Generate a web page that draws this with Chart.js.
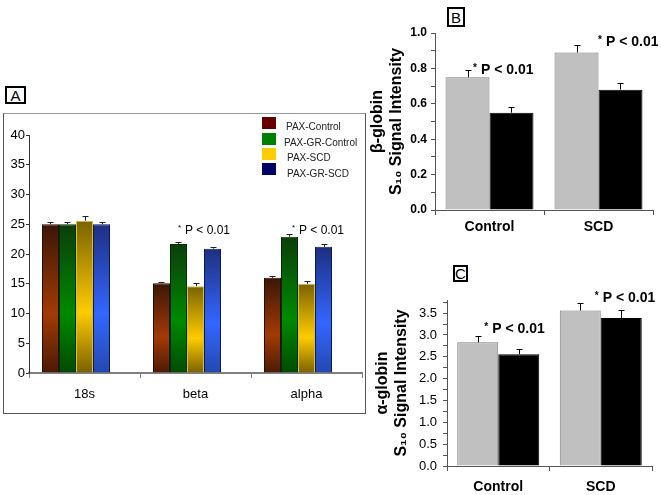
<!DOCTYPE html>
<html>
<head>
<meta charset="utf-8">
<script src="https://cdn.jsdelivr.net/npm/chart.js@4.4.1/dist/chart.umd.min.js"></script>
<style>
    body { margin: 0; background: #fff; font-family: "Liberation Sans", Arial, sans-serif; }
    #page { position: relative; width: 661px; height: 495px; overflow: hidden; }
    .abs { position: absolute; }
    .tag { position: absolute; box-sizing: border-box; border: 2px solid #000; font-size: 15px; line-height: 1; display: flex; align-items: center; justify-content: center; color: #000; }
    .key { position: absolute; width: 14px; height: 12px; }
    .keyText { position: absolute; font-size: 10px; color: #222; line-height: 12px; white-space: nowrap; }
</style>
</head>
<body>
<div id="page">
    <div class="abs" style="left:3px;top:113px;width:363px;height:301px;box-sizing:border-box;border:1px solid #555;border-top-color:#999;"></div>
    <div class="tag" style="left:5px;top:86px;width:21px;height:18px;">A</div>
    <div class="tag" style="left:447px;top:7px;width:18px;height:20px;">B</div>
    <div class="tag" style="left:453px;top:265px;width:15px;height:17px;">C</div>

    <canvas id="chartA" class="abs" style="left:4px;top:114px;" width="360" height="298"></canvas>
    <canvas id="chartB" class="abs" style="left:362px;top:20px;" width="299" height="225"></canvas>
    <canvas id="chartC" class="abs" style="left:362px;top:285px;" width="299" height="210"></canvas>
    <div id="legendA"></div>
</div>
<script>
// panel A: expression by probe
const categoriesA = ['18s', 'beta', 'alpha'];
const seriesNamesA = ['PAX-Control', 'PAX-GR-Control', 'PAX-SCD', 'PAX-GR-SCD'];
const paxControl = [25.0, 15.1, 16.0];
const paxGrControl = [25.0, 21.7, 22.9];
const paxScd = [25.6, 14.6, 15.0];
const paxGrScd = [25.0, 20.9, 21.2];
const errPaxControl = [0.35, 0.2, 0.35];
const errPaxGrControl = [0.3, 0.4, 0.4];
const errPaxScd = [0.75, 0.45, 0.45];
const errPaxGrScd = [0.3, 0.35, 0.4];
const ticksA = [0, 5, 10, 15, 20, 25, 30, 35, 40];

// panels B and C: globin signal intensity
const groupsBC = ['Control', 'SCD'];
const betaPax = [0.75, 0.89];
const betaPaxGr = [0.55, 0.68];
const betaPaxErr = [0.04, 0.04];
const betaPaxGrErr = [0.03, 0.035];
const alphaPax = [2.83, 3.56];
const alphaPaxGr = [2.56, 3.39];
const alphaPaxErr = [0.15, 0.17];
const alphaPaxGrErr = [0.12, 0.17];

const pNote = 'P < 0.01';

Chart.defaults.font.family = '"Liberation Sans", Arial, sans-serif';
Chart.defaults.color = '#000';

// top-dark / bright-middle shading like the original bars
function shaded(dark, bright, low) {
    return function (c) {
        const y = c.chart.scales.y;
        if (!y || c.raw == null) return bright;
        const top = y.getPixelForValue(c.raw);
        const base = y.getPixelForValue(0);
        if (!isFinite(top) || !isFinite(base) || top === base) return bright;
        const g = c.chart.ctx.createLinearGradient(0, top, 0, base);
        g.addColorStop(0, dark);
        g.addColorStop(0.6, bright);
        g.addColorStop(1, low);
        return g;
    };
}

const errorBars = {
    id: 'errorBars',
    afterDatasetsDraw(chart, args, opts) {
        const ctx = chart.ctx;
        const yScale = chart.scales.y;
        ctx.save();
        ctx.strokeStyle = opts.color || '#000';
        ctx.lineWidth = 1;
        chart.data.datasets.forEach(function (ds, i) {
            if (!ds.errors) return;
            chart.getDatasetMeta(i).data.forEach(function (bar, j) {
                const v = ds.data[j];
                if (v == null) return;
                const x = Math.round(bar.x) + 0.5;
                const yTop = Math.round(yScale.getPixelForValue(v + ds.errors[j])) + 0.5;
                ctx.beginPath();
                ctx.moveTo(x, bar.y);
                ctx.lineTo(x, yTop);
                ctx.moveTo(x - opts.cap, yTop);
                ctx.lineTo(x + opts.cap, yTop);
                ctx.stroke();
            });
        });
        ctx.restore();
    }
};

const pNotes = {
    id: 'pNotes',
    afterDraw(chart, args, opts) {
        if (!opts.items) return;
        const ctx = chart.ctx;
        ctx.save();
        ctx.fillStyle = '#000';
        ctx.textBaseline = 'middle';
        ctx.textAlign = 'left';
        opts.items.forEach(function (it) {
            const x = chart.scales.x.getPixelForValue(it.index) + it.dx;
            const y = chart.scales.y.getPixelForValue(it.value);
            ctx.font = opts.starFont;
            ctx.fillText('*', x, y - opts.rise);
            ctx.font = opts.font;
            ctx.fillText(pNote, x + opts.gap, y);
        });
        ctx.restore();
    }
};

// ---------- panel A ----------
const styleA = [
    { key: '#660000', dark: '#3a1608', bright: '#a33a05', low: '#4a1a05', border: '#2a0a00' },
    { key: '#008000', dark: '#0b3d0b', bright: '#008a00', low: '#004a00', border: '#003000' },
    { key: '#ffcc00', dark: '#7a6200', bright: '#ffcc00', low: '#7a6000', border: '#d8c040' },
    { key: '#000066', dark: '#1e2f80', bright: '#3366ff', low: '#2448b0', border: '#0a1a50' }
];
const valuesA = [paxControl, paxGrControl, paxScd, paxGrScd];
const errorsA = [errPaxControl, errPaxGrControl, errPaxScd, errPaxGrScd];

const datasetsA = seriesNamesA.map(function (name, i) {
    return {
        label: name,
        data: valuesA[i],
        errors: errorsA[i],
        backgroundColor: shaded(styleA[i].dark, styleA[i].bright, styleA[i].low),
        borderColor: styleA[i].border,
        borderWidth: 1
    };
});
// empty slot: the original groups leave one bar width free on the right
datasetsA.push({ label: '', data: [null, null, null] });

new Chart(document.getElementById('chartA'), {
    type: 'bar',
    data: { labels: categoriesA, datasets: datasetsA },
    options: {
        responsive: false,
        animation: false,
        categoryPercentage: 0.766,
        barPercentage: 1,
        layout: { padding: { top: 21, right: 2, bottom: 0, left: 0 } },
        plugins: {
            legend: { display: false },
            tooltip: { enabled: false },
            errorBars: { cap: 3, color: '#222' },
            pNotes: {
                items: [
                    { index: 1, value: 24.0, dx: -17.5 },
                    { index: 2, value: 24.0, dx: -14.5 }
                ],
                font: '12px "Liberation Sans", Arial, sans-serif',
                starFont: '8px "Liberation Sans", Arial, sans-serif',
                rise: 2,
                gap: 7
            }
        },
        scales: {
            x: {
                afterFit: function (s) { s.height = 39; },
                border: { color: '#808080', width: 2 },
                grid: { offset: true, drawOnChartArea: false, tickLength: 5, color: '#808080' },
                ticks: { font: { size: 13 }, padding: 9, color: '#000' }
            },
            y: {
                min: 0,
                max: 40,
                afterFit: function (s) { s.width = 25; },
                afterBuildTicks: function (s) { s.ticks = ticksA.map(function (v) { return { value: v }; }); },
                border: { color: '#333', width: 1 },
                grid: { drawOnChartArea: false, tickLength: 3, color: '#333' },
                ticks: { font: { size: 13 }, padding: 1, color: '#000' }
            }
        }
    },
    plugins: [errorBars, pNotes]
});

// legend for panel A
const legendTops = [117, 133, 148, 163];
const textLefts = [286, 284, 287, 287];
const legendBox = document.getElementById('legendA');
seriesNamesA.forEach(function (name, i) {
    const sw = document.createElement('div');
    sw.className = 'key';
    sw.style.left = '262px';
    sw.style.top = legendTops[i] + 'px';
    sw.style.background = styleA[i].key;
    legendBox.appendChild(sw);
    const tx = document.createElement('div');
    tx.className = 'keyText';
    tx.style.left = textLefts[i] + 'px';
    tx.style.top = (legendTops[i] + 4 + (i === 3 ? 1 : 0)) + 'px';
    tx.textContent = name;
    legendBox.appendChild(tx);
});

// ---------- panels B and C ----------
function globinChart(id, opts) {
    return new Chart(document.getElementById(id), {
        type: 'bar',
        data: {
            labels: groupsBC,
            datasets: [
                { label: 'PAX', data: opts.pax, errors: opts.paxErr, backgroundColor: '#c0c0c0', borderColor: '#7a7a7a', borderWidth: 1 },
                { label: 'PAX-GR', data: opts.paxGr, errors: opts.paxGrErr, backgroundColor: '#000', borderColor: '#000', borderWidth: 1 }
            ]
        },
        options: {
            responsive: false,
            animation: false,
            categoryPercentage: opts.catPct,
            barPercentage: 1,
            layout: { padding: opts.padding },
            plugins: {
                legend: { display: false },
                tooltip: { enabled: false },
                errorBars: { cap: 3, color: '#000' },
                pNotes: {
                    items: opts.notes,
                    font: 'bold 14px "Liberation Sans", Arial, sans-serif',
                    starFont: 'bold 10px "Liberation Sans", Arial, sans-serif',
                    rise: 2,
                    gap: 8
                }
            },
            scales: {
                x: {
                    afterFit: function (s) { s.height = opts.xHeight; },
                    border: { color: '#555', width: 1 },
                    grid: { offset: true, drawOnChartArea: false, tickLength: 5, color: '#555' },
                    ticks: { font: { size: 14, weight: 'bold' }, padding: opts.xPad, color: '#000' }
                },
                y: {
                    min: 0,
                    max: opts.max,
                    afterFit: function (s) { s.width = opts.yWidth; },
                    border: { color: '#555', width: 1 },
                    grid: { drawOnChartArea: false, tickLength: 4, color: '#555' },
                    title: {
                        display: true,
                        text: opts.title,
                        font: { size: 16, weight: 'bold', lineHeight: 1.2 },
                        padding: { top: opts.titlePad, bottom: 0 },
                        color: '#000'
                    },
                    ticks: {
                        stepSize: opts.minor,
                        includeBounds: false,
                        autoSkip: false,
                        font: opts.tickFont,
                        padding: opts.yPad,
                        color: '#000',
                        callback: function (v) {
                            const k = Math.round(v / opts.minor);
                            return k % 2 === 0 ? v.toFixed(1) : '';
                        }
                    }
                }
            }
        },
        plugins: [errorBars, pNotes]
    });
}

globinChart('chartB', {
    pax: betaPax, paxGr: betaPaxGr, paxErr: betaPaxErr, paxGrErr: betaPaxGrErr,
    max: 1.0, minor: 0.1,
    catPct: 0.807,
    padding: { top: 13, right: 8, bottom: 0, left: 0 },
    xHeight: 35, xPad: 4, yWidth: 73, yPad: 4, titlePad: 6,
    tickFont: { size: 12, weight: 'bold' },
    title: ['β-globin', 'S₁₀ Signal Intensity'],
    notes: [
        { index: 0, value: 0.79, dx: -16.5 },
        { index: 1, value: 0.95, dx: -0.5 }
    ]
});

globinChart('chartC', {
    pax: alphaPax, paxGr: alphaPaxGr, paxErr: alphaPaxErr, paxGrErr: alphaPaxGrErr,
    max: 3.8, minor: 0.25,
    catPct: 0.8,
    padding: { top: 15, right: 9, bottom: 0, left: 0 },
    xHeight: 29, xPad: 8, yWidth: 85, yPad: 6, titlePad: 11,
    tickFont: { size: 13 },
    title: ['α-globin', 'S₁₀ Signal Intensity'],
    notes: [
        { index: 0, value: 3.13, dx: -14 },
        { index: 1, value: 3.84, dx: -6 }
    ]
});
</script>
</body>
</html>
